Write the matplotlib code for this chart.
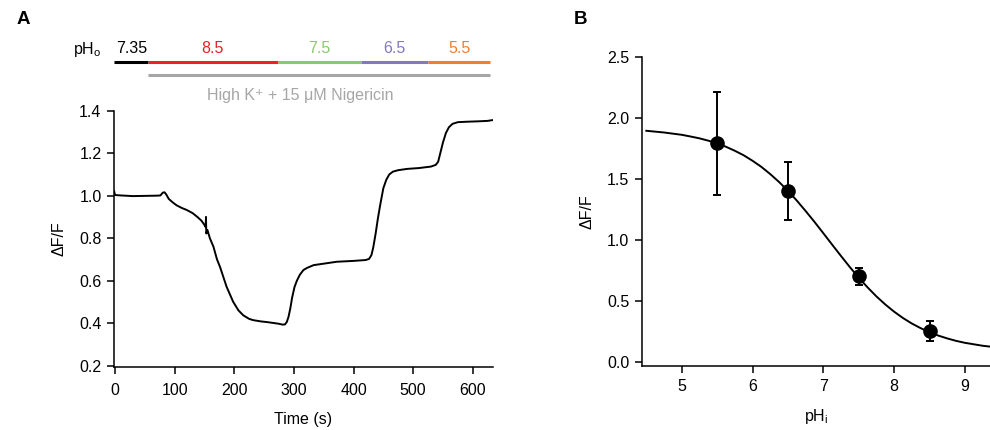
import matplotlib
matplotlib.use("Agg")
import matplotlib.pyplot as plt
import matplotlib.transforms as mtransforms

plt.rcParams["font.family"] = ["Liberation Sans", "DejaVu Sans"]
plt.rcParams["font.size"] = 11.5
plt.rcParams["mathtext.fontset"] = "custom"
plt.rcParams["mathtext.rm"] = "Liberation Sans"

# panel A: fluorescence trace
time_s = [-1.5, 0, 10, 30, 50, 70, 76, 80, 83, 86, 90, 96, 103, 112, 120, 130,
          138, 145, 150, 152, 152.5, 153, 155, 159, 165, 171, 176, 187, 198,
          207, 215, 225, 232, 245, 255, 265, 275, 281, 285, 288, 291, 294,
          297, 301, 305, 310, 316, 322, 333, 350, 372, 400, 420, 426, 430,
          433, 437, 441, 445, 450, 455, 460, 466, 475, 490, 510, 530, 538,
          542, 546, 550, 555, 560, 566, 575, 590, 610, 625, 634]
dff_trace = [1.02, 1.003, 1.001, 0.998, 0.999, 1.000, 1.001, 1.014, 1.016,
             1.005, 0.985, 0.970, 0.955, 0.942, 0.933, 0.918, 0.900, 0.882,
             0.862, 0.852, 0.900, 0.822, 0.838, 0.800, 0.760, 0.700, 0.665,
             0.572, 0.501, 0.460, 0.437, 0.420, 0.414, 0.408, 0.405, 0.401,
             0.397, 0.393, 0.394, 0.405, 0.430, 0.470, 0.520, 0.570, 0.600,
             0.628, 0.650, 0.660, 0.673, 0.680, 0.689, 0.693, 0.697, 0.702,
             0.720, 0.755, 0.820, 0.895, 0.960, 1.035, 1.075, 1.100, 1.113,
             1.120, 1.126, 1.130, 1.137, 1.145, 1.160, 1.205, 1.250, 1.295,
             1.322, 1.338, 1.346, 1.348, 1.350, 1.352, 1.356]

# pHo solution periods (s)
ph_labels = ["7.35", "8.5", "7.5", "6.5", "5.5"]
ph_starts = [-1, 55, 273, 413, 525]
ph_ends = [55, 273, 413, 525, 629]
ph_colors = ["black", "#e8212b", "#8cc86f", "#8479bb", "#f07f2c"]
nig_start, nig_end = 55, 629

# panel B: calibration
ph_i = [5.5, 6.5, 7.5, 8.5]
dff_mean = [1.79, 1.40, 0.70, 0.25]
dff_err = [0.42, 0.24, 0.07, 0.08]
fit_ph = [4.5, 4.75, 5.0, 5.125, 5.25, 5.375, 5.5, 5.625, 5.75, 5.875, 6.0,
          6.125, 6.25, 6.375, 6.5, 6.625, 6.75, 6.875, 7.0, 7.125, 7.25,
          7.375, 7.5, 7.625, 7.75, 7.875, 8.0, 8.125, 8.25, 8.375, 8.5,
          8.625, 8.75, 8.875, 9.0, 9.25, 9.5]
fit_dff = [1.893, 1.879, 1.860, 1.846, 1.831, 1.812, 1.789, 1.762, 1.729,
           1.692, 1.647, 1.597, 1.538, 1.473, 1.400, 1.321, 1.235, 1.146,
           1.053, 0.959, 0.866, 0.775, 0.689, 0.609, 0.535, 0.469, 0.410,
           0.358, 0.313, 0.275, 0.242, 0.214, 0.191, 0.171, 0.155, 0.131,
           0.114]

fig = plt.figure(figsize=(9.9, 4.3), dpi=100)
axA = fig.add_axes([0.1152, 0.1472, 0.3828, 0.5954])
axB = fig.add_axes([0.6482, 0.1488, 0.3518, 0.7193])

for ax in (axA, axB):
    for s in ("top", "right"):
        ax.spines[s].set_visible(False)
    for s in ("left", "bottom"):
        ax.spines[s].set_linewidth(1.1)
    ax.tick_params(direction="out", length=5, width=1.1, labelsize=11.5,
                   colors="black", pad=4)
axA.tick_params(axis="x", pad=7)

#####
# Panel A
#####
axA.plot(time_s, dff_trace, color="black", lw=1.4)
axA.set_xlim(-1.7, 634)
axA.set_ylim(0.195, 1.4)
axA.set_xticks([0, 100, 200, 300, 400, 500, 600])
axA.set_yticks([0.2, 0.4, 0.6, 0.8, 1.0, 1.2, 1.4])
axA.set_xlabel("Time (s)", fontsize=11.5, labelpad=10)
axA.set_ylabel("\u0394F/F", fontsize=11.5, labelpad=9)

trans = mtransforms.blended_transform_factory(axA.transData, fig.transFigure)
for lab, x0, x1, c in zip(ph_labels, ph_starts, ph_ends, ph_colors):
    axA.plot([x0, x1], [0.856, 0.856], color=c, lw=2.2, transform=trans,
             clip_on=False, solid_capstyle="butt")
    xc = 28 if lab == "7.35" else (x0 + x1) / 2
    axA.text(xc, 0.888, lab, color=c, transform=trans, ha="center",
             va="center", fontsize=11.5)
axA.plot([nig_start, nig_end], [0.826, 0.826], color="#a6a6a6", lw=2.2,
         transform=trans, clip_on=False, solid_capstyle="butt")
axA.text(-71, 0.885, r"pH$_\mathregular{o}$", transform=trans, ha="left",
         va="center", fontsize=11.5)
axA.text(310, 0.777, "High K\u207a + 15 \u03bcM Nigericin", color="#a6a6a6",
         transform=trans, ha="center", va="center", fontsize=11.5)

#####
# Panel B
#####
axB.plot(fit_ph, fit_dff, color="black", lw=1.4)
axB.errorbar(ph_i, dff_mean, yerr=dff_err, fmt="o", color="black", ms=9.5,
             capsize=3, elinewidth=1.4, capthick=1.4)
axB.set_xlim(4.435, 9.353)
axB.set_ylim(-0.035, 2.5)
axB.set_xticks([5, 6, 7, 8, 9])
axB.set_yticks([0.0, 0.5, 1.0, 1.5, 2.0, 2.5])
axB.set_yticklabels(["0.0", "0.5", "1.0", "1.5", "2.0", "2.5"])
axB.set_xlabel(r"pH$_\mathregular{i}$", fontsize=11.5, labelpad=10)
axB.set_ylabel("\u0394F/F", fontsize=11.5, labelpad=9)

fig.text(0.017, 0.955, "A", fontsize=13.5, fontweight="bold", va="center")
fig.text(0.58, 0.955, "B", fontsize=13.5, fontweight="bold", va="center")

fig.savefig("out.png", dpi=100)
